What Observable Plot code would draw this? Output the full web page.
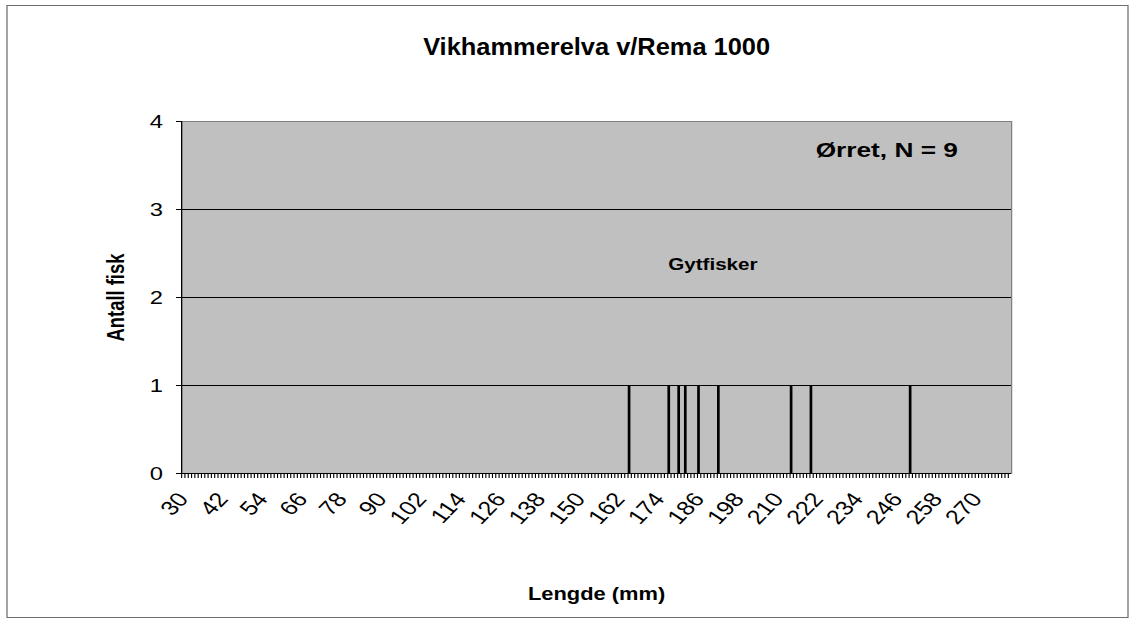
<!DOCTYPE html>
<html>
<head>
<meta charset="utf-8">
<script src="https://cdn.jsdelivr.net/npm/d3@7"></script>
<script src="https://cdn.jsdelivr.net/npm/@observablehq/plot@0.6"></script>
<style>
  html, body { margin: 0; padding: 0; background: #fff; }
  #chart { width: 1135px; height: 624px; overflow: hidden; }
  #chart svg { display: block; }
</style>
</head>
<body>
<div id="chart"></div>
<script>
// ---- data ----
const lengths = [165, 177, 180, 182, 186, 192, 214, 220, 250];   // mm
const counts  = [1, 1, 1, 1, 1, 1, 1, 1, 1];                      // antall fisk
const categories = d3.range(30, 281);                             // category axis 30..280 mm
const xTickLabels = [30, 42, 54, 66, 78, 90, 102, 114, 126, 138, 150, 162, 174, 186, 198, 210, 222, 234, 246, 258, 270];
const yTicks = [0, 1, 2, 3, 4];
const gridValues = [1, 2, 3];
const title = "Vikhammerelva v/Rema 1000";
const speciesNote = "Ørret, N = 9";
const groupNote = "Gytfisker";
const xTitle = "Lengde (mm)";
const yTitle = "Antall fisk";

const data = lengths.map((len, i) => ({len, count: counts[i]}));

// Chart drawn in an unstretched space, then stretched horizontally (as the original)
const W = 908, H = 624;
const mL = 144.8, mR = 99.2, mT = 121, mB = 151;
const bw = (W - mL - mR) / categories.length;
const font = "Liberation Sans, Arial, sans-serif";

const plot = Plot.plot({
  width: W,
  height: H,
  marginLeft: mL,
  marginRight: mR,
  marginTop: mT,
  marginBottom: mB,
  style: {fontFamily: font, background: "transparent", overflow: "visible"},
  x: {type: "band", domain: categories, padding: 0, axis: null},
  y: {domain: [0, 4], axis: null},
  marks: [
    Plot.frame({fill: "#c0c0c0", stroke: "#808080"}),
    Plot.ruleY(gridValues, {stroke: "black", strokeWidth: 1}),
    Plot.barY(data, {x: "len", y: "count", fill: "black", insetLeft: 0.25, insetRight: 0.25}),
    Plot.ruleY([0], {stroke: "black", strokeWidth: 1.2}),
    Plot.ruleX([categories[0]], {x: d => d, dx: -bw / 2, stroke: "black", strokeWidth: 1}),
    // minor ticks between categories
    Plot.axisX({ticks: categories, tickSize: 5, tickFormat: () => "", dx: -bw / 2, stroke: "black",
                strokeWidth: 0.9, label: null}),
    // labels every 12 mm
    Plot.axisX({ticks: xTickLabels, tickSize: 0, tickPadding: 22, tickRotate: -51.3, textAnchor: "end",
                fontSize: 20, fill: "black", label: null}),
    Plot.axisY({ticks: yTicks, tickFormat: d => String(d), tickSize: 4, tickPadding: 11, fontSize: 19,
                fill: "black", stroke: "black", label: null}),
    Plot.text([title], {frameAnchor: "top", dy: -74, textAnchor: "middle", lineAnchor: "middle",
                        fontSize: 24, fontWeight: "bold", fill: "black", className: "chart-title"}),
    Plot.text([speciesNote], {frameAnchor: "top-right", dx: -43, dy: 29, textAnchor: "end", lineAnchor: "middle",
                              fontSize: 21, fontWeight: "bold", fill: "black"}),
    Plot.text([groupNote], {frameAnchor: "top-left", dx: 425, dy: 143, textAnchor: "middle", lineAnchor: "middle",
                            fontSize: 16.5, fontWeight: "bold", fill: "black"}),
    Plot.text([xTitle], {frameAnchor: "bottom", dy: 121, textAnchor: "middle", lineAnchor: "middle",
                         fontSize: 17.5, fontWeight: "bold", fill: "black"}),
    Plot.text([yTitle], {frameAnchor: "left", dx: -52, rotate: -90, textAnchor: "middle", lineAnchor: "middle",
                         fontSize: 18.4, fontWeight: "bold", fill: "black"})
  ]
});

// title is less stretched than the rest: keep its width, taller glyphs
d3.select(plot).selectAll(".chart-title text")
  .attr("textLength", 277.6).attr("lengthAdjust", "spacingAndGlyphs");

// outer chart border
d3.select(plot).insert("rect", ":first-child")
  .attr("x", 5.6).attr("y", 5.5).attr("width", 902.4 - 5.6).attr("height", 617.5 - 5.5)
  .attr("fill", "white").attr("stroke", "#6e6e6e").attr("stroke-width", 1);

plot.setAttribute("viewBox", `0 0 ${W} ${H}`);
plot.setAttribute("width", 1135);
plot.setAttribute("height", 624);
plot.setAttribute("preserveAspectRatio", "none");
plot.style.maxWidth = "none";
document.getElementById("chart").appendChild(plot);
</script>
</body>
</html>
